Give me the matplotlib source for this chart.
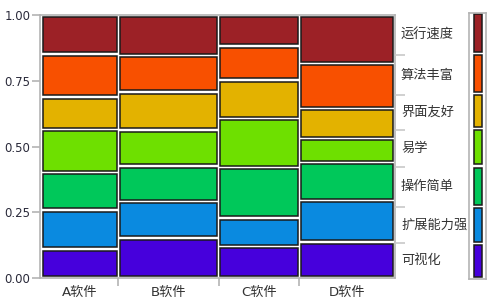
import numpy as np
from matplotlib import pyplot as plt
from matplotlib.patches import Rectangle
import matplotlib.transforms as mtransforms

plt.rcParams['font.family'] = ['DejaVu Sans', 'Noto Sans CJK SC']

# 数据
software = ["A软件", "B软件", "C软件", "D软件"]
counts = [77, 101, 81, 96]          # 每个软件的样本量（决定列宽）
features = ["可视化", "扩展能力强", "操作简单", "易学", "界面友好", "算法丰富", "运行速度"]  # 自下而上
share_a = [0.110, 0.148, 0.141, 0.163, 0.125, 0.163, 0.148]
share_b = [0.152, 0.138, 0.136, 0.137, 0.144, 0.138, 0.155]
share_c = [0.119, 0.109, 0.193, 0.185, 0.147, 0.129, 0.118]
share_d = [0.137, 0.158, 0.143, 0.092, 0.113, 0.172, 0.185]
colors = ["#4600dc", "#0a8ae0", "#00c85a", "#6ee000", "#e3b200", "#f85000", "#9c2126"]


def main():
    W, H, DPI = 495, 305, 100
    fig = plt.figure(figsize=(W / DPI, H / DPI), dpi=DPI)
    x0, x1, y0, y1 = 40, 395, 27, 290  # 绘图区（像素，下边距/上边距从底部计）
    ax = fig.add_axes([x0 / W, y0 / H, (x1 - x0) / W, (y1 - y0) / H])
    px = 1 / (x1 - x0)
    py = 1 / (y1 - y0)

    shares = np.array([share_a, share_b, share_c, share_d])
    shares = shares / shares.sum(axis=1, keepdims=True)
    widths = np.array(counts) / np.sum(counts)
    lefts = np.concatenate([[0], np.cumsum(widths)[:-1]])

    gap = 1.6
    for i in range(len(software)):
        bottom = 0
        for j in range(len(features)):
            h = shares[i, j]
            ax.add_patch(Rectangle((lefts[i] + gap * px, bottom + gap * py),
                                   widths[i] - 2 * gap * px, h - 2 * gap * py,
                                   facecolor=colors[j], edgecolor="#1a1a1a", linewidth=1.1))
            bottom += h

    ax.set_xlim(-1.5 * px, 1)
    ax.set_ylim(0, 1)

    # 边框
    for s in ["left", "bottom", "top", "right"]:
        ax.spines[s].set_color("#b4b4b4")
        ax.spines[s].set_linewidth(1.2)

    ax.set_yticks([0, 0.25, 0.5, 0.75, 1.0])
    ax.set_yticklabels(["0.00", "0.25", "0.50", "0.75", "1.00"])
    ax.set_xticks(np.cumsum(widths)[:-1])
    ax.set_xticklabels([])
    ax.tick_params(axis="both", colors="#b4b4b4", length=6, width=1.2, labelcolor="#2a2a3a",
                   labelsize=8.5, pad=1)

    text_kw = dict(family=["DejaVu Sans", "Noto Sans CJK SC"], fontsize=9.5, color="#333333")
    for i, name in enumerate(software):
        ax.text(lefts[i] + widths[i] / 2, -0.055, name, ha="center", va="center", **text_kw)

    # 整体边际比例
    marginal = (shares * widths[:, None]).sum(axis=0)
    cum = np.cumsum(marginal)
    ax2 = ax.twinx()
    ax2.set_ylim(0, 1)
    ax2.set_yticks(cum[:-1])
    ax2.set_yticklabels([])
    ax2.tick_params(axis="y", colors="#c8c8c8", length=7, width=1.2)
    for s in ax2.spines.values():
        s.set_visible(False)

    trans = mtransforms.blended_transform_factory(ax.transAxes, ax.transData)
    starts = np.concatenate([[0], cum[:-1]])
    for j, name in enumerate(features):
        ax.text((401 - x0) * px, starts[j] + marginal[j] / 2, name, transform=trans,
                ha="left", va="center", **text_kw)

    # 右侧色条
    cx0, cx1 = 469, 486
    cax = fig.add_axes([cx0 / W, 26 / H, (cx1 - cx0) / W, 266 / H])
    cax.set_xlim(0, 1)
    cax.set_ylim(0, 1)
    cax.set_xticks([])
    cax.set_yticks([])
    for s in cax.spines.values():
        s.set_color("#b4b4b4")
        s.set_linewidth(1.2)
    cpy = 1 / 266
    for j in range(len(features)):
        cax.add_patch(Rectangle((5 / 17, starts[j] + 2.2 * cpy), 7.5 / 17, marginal[j] - 3.4 * cpy,
                                facecolor=colors[j], edgecolor="#1a1a1a", linewidth=1.1))

    fig.savefig("out.png", dpi=DPI)


if __name__ == "__main__":
    main()
